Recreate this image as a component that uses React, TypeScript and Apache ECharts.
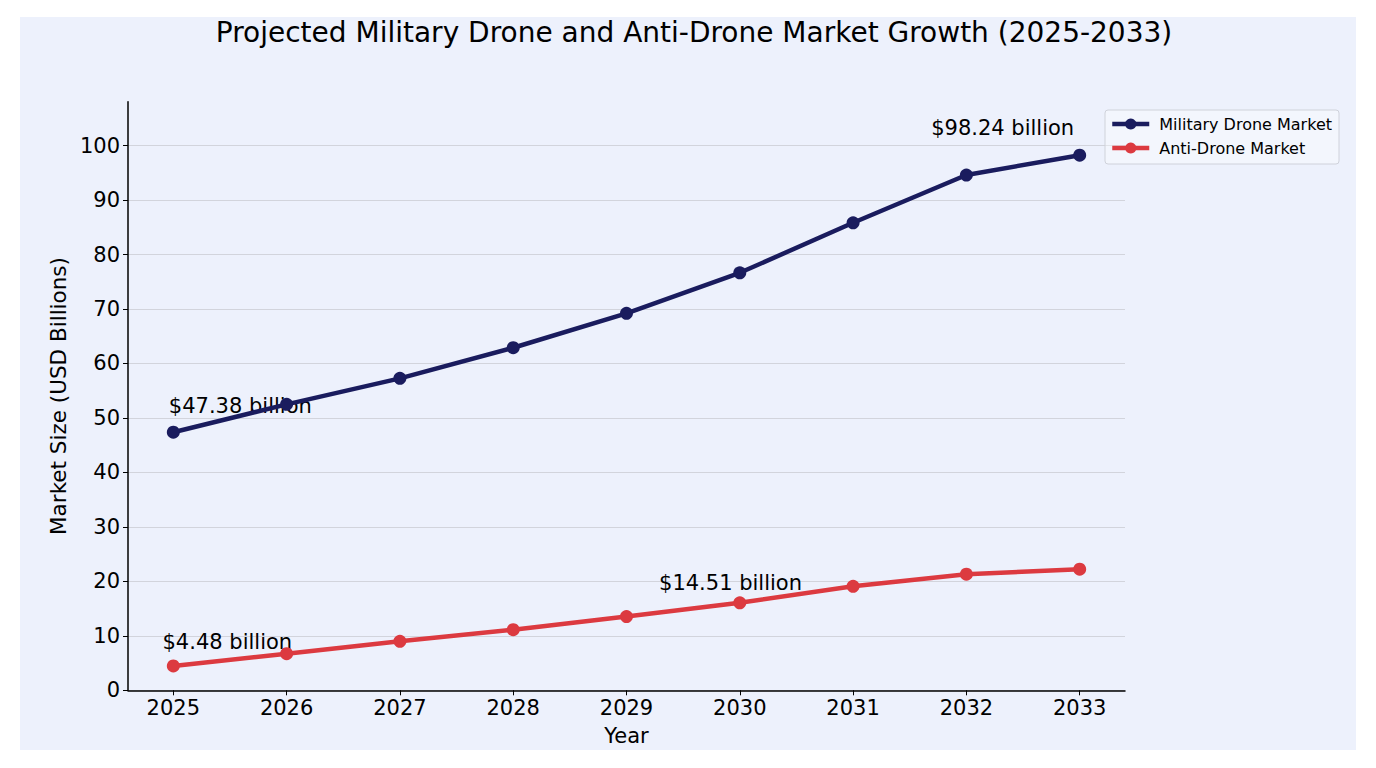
import React, { useEffect, useRef } from "react";
import * as echarts from "echarts";

const years = [2025, 2026, 2027, 2028, 2029, 2030, 2031, 2032, 2033];
const militaryDrone = [47.38, 52.5, 57.27, 62.89, 69.2, 76.65, 85.83, 94.6, 98.24];
const antiDrone = [4.48, 6.72, 9.0, 11.12, 13.53, 16.06, 19.09, 21.31, 22.23];
const yTicks = [0, 10, 20, 30, 40, 50, 60, 70, 80, 90, 100];

const annotationTexts = ["$47.38 billion", "$98.24 billion", "$4.48 billion", "$14.51 billion"];
const annotationX = [2025, 2033, 2025, 2029];
const annotationY = [47.38, 98.24, 4.48, 14.51];
const annotationOffsets = [
  [67, -26],
  [-77, -27],
  [54, -24],
  [104, -28],
];

const NAVY = "#1a1c5e";
const RED = "#dc3a40";
const FONT = "DejaVu Sans";

export default function App() {
  const ref = useRef<HTMLDivElement>(null);
  useEffect(() => {
    if (!ref.current) return;
    const chart = echarts.init(ref.current, undefined, { renderer: "svg" });
    const option = {
      animation: false,
      textStyle: { fontFamily: FONT },
      graphic: [
        {
          type: "rect",
          z: -10,
          silent: true,
          shape: { x: 20, y: 17, width: 1336, height: 733 },
          style: { fill: "#edf1fc" },
        },
        {
          type: "text",
          x: 694,
          y: 32,
          style: {
            text: "Projected Military Drone and Anti-Drone Market Growth (2025-2033)",
            fontFamily: FONT,
            fontSize: 28,
            fill: "#000",
            textAlign: "center",
            textVerticalAlign: "middle",
          },
        },
      ],
      legend: {
        orient: "vertical",
        left: 1105,
        top: 110,
        data: ["Military Drone Market", "Anti-Drone Market"],
        itemWidth: 37,
        itemHeight: 14,
        itemGap: 8,
        padding: [6, 7, 8, 5],
        lineStyle: { width: 4.5 },
        backgroundColor: "rgba(255,255,255,0.35)",
        borderColor: "#cfd2da",
        borderWidth: 1,
        borderRadius: 3,
        textStyle: { fontFamily: FONT, fontSize: 16, color: "#000", padding: [0, 0, 0, 5] },
      },
      grid: { left: 128, right: 251, top: 101.7, bottom: 77.7 },
      xAxis: {
        type: "value",
        min: 2024.6,
        max: 2033.4,
        name: "Year",
        nameLocation: "middle",
        nameGap: 35,
        nameTextStyle: { fontFamily: FONT, fontSize: 21, color: "#000" },
        axisLine: { show: true, lineStyle: { color: "#000", width: 1.5 } },
        axisTick: { show: true, inside: false, length: 5, customValues: years, lineStyle: { color: "#000", width: 1 } },
        axisLabel: {
          customValues: years,
          formatter: (v: number) => String(v),
          fontFamily: FONT,
          fontSize: 21,
          color: "#000",
          margin: 7,
        },
        splitLine: { show: false },
      },
      yAxis: {
        type: "value",
        min: 0,
        max: 108.06,
        interval: 10,
        name: "Market Size (USD Billions)",
        nameLocation: "middle",
        nameGap: 54,
        nameTextStyle: { fontFamily: FONT, fontSize: 21.5, color: "#000" },
        axisLine: { show: true, lineStyle: { color: "#000", width: 1.5 } },
        axisTick: { show: true, inside: false, length: 5, customValues: yTicks, lineStyle: { color: "#000", width: 1 } },
        axisLabel: {
          customValues: yTicks,
          fontFamily: FONT,
          fontSize: 21,
          color: "#000",
          margin: 8,
        },
        splitLine: { show: true, lineStyle: { color: "#d2d4dc", width: 1 } },
      },
      series: [
        {
          type: "scatter",
          name: "annotations",
          z: 1,
          silent: true,
          symbolSize: 1,
          itemStyle: { color: "rgba(0,0,0,0)", opacity: 1 },
          label: {
            show: true,
            position: "inside",
            formatter: (p: any) => p.name,
            fontFamily: FONT,
            fontSize: 21,
            color: "#000",
          },
          data: annotationTexts.map((t, i) => ({
            name: t,
            value: [annotationX[i], annotationY[i]],
            label: { offset: annotationOffsets[i] },
          })),
        },
        {
          type: "line",
          name: "Military Drone Market",
          z: 3,
          data: years.map((y, i) => [y, militaryDrone[i]]),
          symbol: "circle",
          symbolSize: 13,
          lineStyle: { color: NAVY, width: 4.5 },
          itemStyle: { color: NAVY },
        },
        {
          type: "line",
          name: "Anti-Drone Market",
          z: 3,
          data: years.map((y, i) => [y, antiDrone[i]]),
          symbol: "circle",
          symbolSize: 13,
          lineStyle: { color: RED, width: 4.5 },
          itemStyle: { color: RED },
        },
      ],
    };
    chart.setOption(option as any);
    return () => chart.dispose();
  }, []);
  return (
    <div
      ref={ref}
      style={{ position: "absolute", left: 0, top: 0, width: 1376, height: 768, background: "#fff" }}
    />
  );
}
